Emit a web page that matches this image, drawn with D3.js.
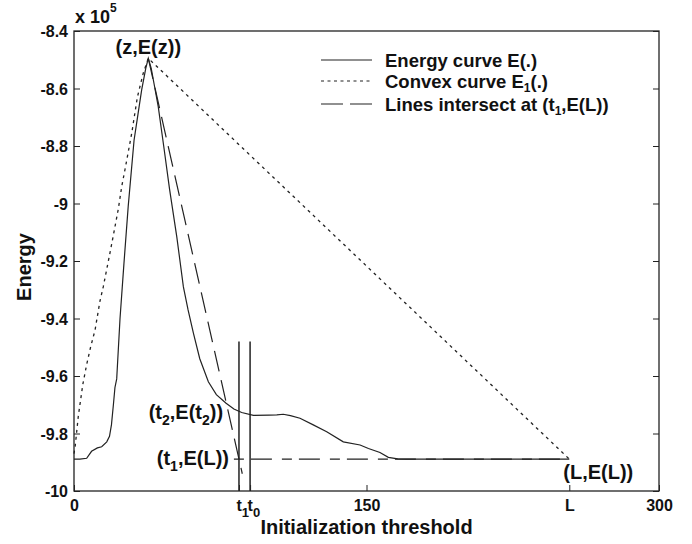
<!DOCTYPE html>
<html>
<head>
<meta charset="utf-8">
<script src="https://cdn.jsdelivr.net/npm/d3@7"></script>
<style>
    body { margin: 0; background: #fff; }
    text { font-family: Arial, "Liberation Sans", sans-serif; font-weight: bold; fill: #111; }
</style>
</head>
<body>
<div id="chart"></div>
<script>
// energy values are in units of 1e5
const energyX = [0, 3, 6.5, 9, 12, 14.2, 16.8, 18.2, 19.2, 20.2, 21, 21.9, 23.6, 25.6, 27.8, 30.8, 32.8, 34.7, 36.8, 38.1,
    39.6, 41.5, 43.2, 46, 49, 52.7, 56.1, 58.5, 61.2, 64.5, 68.9, 73, 78, 82, 86, 92, 100, 104, 107.3, 111,
    115.9, 122.7, 129.6, 138.1, 146.7, 151, 156.9, 161.2, 166, 170.6, 254]
const energyY = [-9.889, -9.889, -9.886, -9.862, -9.85, -9.846, -9.829, -9.81, -9.77, -9.70, -9.64, -9.61, -9.40, -9.21, -9.01, -8.78, -8.69, -8.605, -8.53, -8.495,
    -8.53, -8.60, -8.663, -8.80, -8.95, -9.115, -9.29, -9.37, -9.45, -9.54, -9.62, -9.665, -9.695, -9.715, -9.727, -9.737, -9.736, -9.735, -9.733, -9.738,
    -9.747, -9.77, -9.794, -9.829, -9.84, -9.852, -9.866, -9.883, -9.888, -9.889, -9.889]

const convexX = [0, 0.6, 2.2, 4.5, 6.5, 8.5, 10.8, 13.3, 15, 18.5, 20.2, 22.7, 24.5, 26.2, 29.6, 32.5, 35.5, 38.1, 254]
const convexY = [-9.87, -9.845, -9.74, -9.63, -9.56, -9.50, -9.44, -9.34, -9.29, -9.17, -9.11, -9.02, -8.94, -8.88, -8.756, -8.63, -8.547, -8.495, -9.889]

// the two dashed lines meeting at (t1, E(L))
const slopeX = [38.1, 86.3]
const slopeY = [-8.495, -9.94]
const levelX = [82, 254]
const levelY = [-9.889, -9.889]

// vertical markers at t1 and t0
const markX = [84.6, 90.3]
const markTop = -9.48

const points = {z: [38.1, -8.495], t2: [78, -9.70], t1: [84.6, -9.889], L: [254, -9.889]}

const xTicks = [0, 84.6, 90.3, 150, 254, 300]
const xTickLabels = ["0", "t_1", "t_0", "150", "L", "300"]
const yTicks = [-10, -9.8, -9.6, -9.4, -9.2, -9, -8.8, -8.6, -8.4]

const legendLabels = ["Energy curve E(.)", "Convex curve E_1(.)", "Lines intersect at (t_1,E(L))"]
const legendDash = [null, "3,3.5", "22,7"]

const width = 692, height = 544
const margin = {top: 31, right: 33, bottom: 53, left: 74}

const svg = d3.select("#chart")
    .append("svg")
    .attr("width", width)
    .attr("height", height)

const x = d3.scaleLinear().domain([0, 300]).range([margin.left, width - margin.right])
const y = d3.scaleLinear().domain([-10, -8.4]).range([height - margin.bottom, margin.top])

// text with "_c" marking a subscript character
const rich = (t, str, subSize, shift) => {
    let down = false
    str.split(/(_.)/).filter(s => s).forEach(s => {
        const isSub = s[0] === "_"
        const ts = t.append("tspan").text(isSub ? s.slice(1) : s)
        if (isSub) {
            ts.attr("dy", shift).attr("font-size", subSize)
            down = true
        } else if (down) {
            ts.attr("dy", -shift)
            down = false
        }
    })
}

// frame
svg.append("rect")
    .attr("x", x(0)).attr("y", y(-8.4))
    .attr("width", x(300) - x(0)).attr("height", y(-10) - y(-8.4))
    .attr("fill", "none").attr("stroke", "#222").attr("stroke-width", 1.3)

// axes, ticks point inward
const gy = svg.append("g")
    .attr("transform", `translate(${x(0)},0)`)
    .call(d3.axisLeft(y).tickValues(yTicks).tickSize(-6).tickPadding(6)
        .tickFormat(d => String(+d.toFixed(1))))
gy.select(".domain").remove()
gy.selectAll("text").attr("font-size", 16).attr("font-family", null).attr("dy", "0.36em")

const gr = svg.append("g")
    .attr("transform", `translate(${x(300)},0)`)
    .call(d3.axisRight(y).tickValues(yTicks).tickSize(-6).tickFormat(""))
gr.select(".domain").remove()

const gx = svg.append("g")
    .attr("transform", `translate(0,${y(-10)})`)
    .call(d3.axisBottom(x).tickValues(xTicks).tickSize(-6).tickPadding(9))
gx.select(".domain").remove()
gx.selectAll(".tick text").each(function (d, i) {
    const t = d3.select(this).text("").attr("font-size", 16).attr("font-family", null)
    if (xTickLabels[i].includes("_")) t.attr("text-anchor", "start").attr("x", -3)
    rich(t, xTickLabels[i], 13, 6)
})
svg.selectAll(".tick line").attr("stroke", "#222")

// lines
const line = d3.line().x(d => x(d[0])).y(d => y(d[1]))
const zip = (xs, ys) => xs.map((v, i) => [v, ys[i]])

svg.append("path").datum(zip(convexX, convexY))
    .attr("d", line).attr("fill", "none").attr("stroke", "#222")
    .attr("stroke-width", 1.3).attr("stroke-dasharray", "3,4")

svg.append("path").datum(zip(slopeX, slopeY))
    .attr("d", line).attr("fill", "none").attr("stroke", "#222")
    .attr("stroke-width", 1.2).attr("stroke-dasharray", "21,9")

svg.append("path").datum(zip(levelX, levelY))
    .attr("d", line).attr("fill", "none").attr("stroke", "#222")
    .attr("stroke-width", 1.2).attr("stroke-dasharray", "10,7,21,10")

svg.append("path").datum(zip(energyX, energyY))
    .attr("d", line).attr("fill", "none").attr("stroke", "#222")
    .attr("stroke-width", 1.2)

svg.selectAll(".mark")
    .data(markX)
    .enter()
    .append("line")
    .attr("class", "mark")
    .attr("x1", d => x(d)).attr("x2", d => x(d))
    .attr("y1", y(-10)).attr("y2", y(markTop))
    .attr("stroke", "#222").attr("stroke-width", 1.5)

// annotations
const note = (p, str, anchor, dx, dy) => {
    const t = svg.append("text")
        .attr("x", x(p[0]) + dx).attr("y", y(p[1]) + dy)
        .attr("text-anchor", anchor).attr("font-size", 20)
    rich(t, str, 14, 6)
}
note(points.z, "(z,E(z))", "middle", 0, -4)
note(points.t2, "(t_2,E(t_2))", "end", -3, 14)
note(points.t1, "(t_1,E(L))", "end", -10, 6)
note(points.L, "(L,E(L))", "start", -6, 20)

// legend
const legend = svg.append("g")
legendLabels.forEach((lab, i) => {
    const ly = [60, 81, 104][i]
    legend.append("line")
        .attr("x1", 321).attr("x2", 372).attr("y1", ly).attr("y2", ly)
        .attr("stroke", "#222").attr("stroke-width", 1.2)
        .attr("stroke-dasharray", legendDash[i])
    const t = legend.append("text")
        .attr("x", 385).attr("y", ly + 7).attr("font-size", 18.5)
    rich(t, lab, 12, 4)
})

// axis labels
svg.append("text")
    .attr("x", x(150)).attr("y", 534)
    .attr("text-anchor", "middle").attr("font-size", 20)
    .text("Initialization threshold")

svg.append("text")
    .attr("transform", "translate(31,267) rotate(-90)")
    .attr("text-anchor", "middle").attr("font-size", 20)
    .text("Energy")

const exp = svg.append("text").attr("x", 75).attr("y", 23).attr("font-size", 18)
exp.append("tspan").text("x 10")
exp.append("tspan").attr("dy", -11).attr("font-size", 12).text("5")
</script>
</body>
</html>
